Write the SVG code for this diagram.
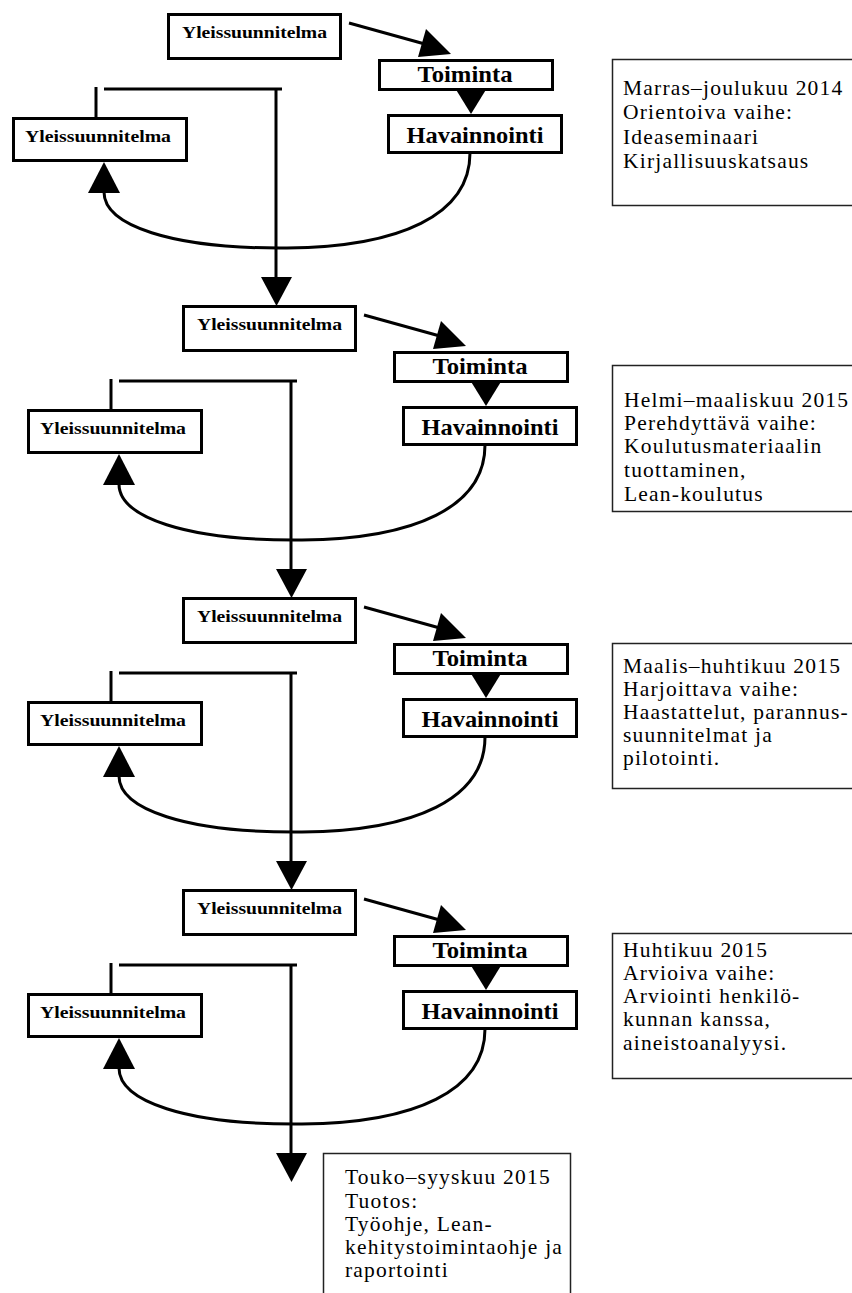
<svg xmlns="http://www.w3.org/2000/svg" width="852" height="1293" viewBox="0 0 852 1293">
  <style>
    .node rect { fill: #fff; stroke: #000; stroke-width: 3; }
    .lbl { font-family: "Liberation Serif", "Times New Roman", serif; font-weight: bold; text-anchor: middle; fill: #000; }
    .lbl-s { font-size: 17px; }
    .lbl-l { font-size: 23px; }
    .note rect { fill: #fff; stroke: #222; stroke-width: 1.5; }
    .note text { font-family: "Liberation Serif", "Times New Roman", serif; font-size: 21.5px; letter-spacing: 1.2px; fill: #000; }
    .wire { fill: none; stroke: #000; stroke-width: 3; }
    .head { fill: #000; stroke: none; }
  </style>

  <!-- Cycle 1 -->
  <g id="cycle1">
    <g id="c1-plan-top" class="node"><rect x="168.5" y="14.5" width="172" height="44"/><text class="lbl lbl-s" x="254.5" y="38" textLength="145" lengthAdjust="spacingAndGlyphs">Yleissuunnitelma</text></g>
    <g id="c1-action" class="node"><rect x="379.5" y="60.5" width="173" height="29"/><text class="lbl lbl-l" x="465" y="82" textLength="95" lengthAdjust="spacingAndGlyphs">Toiminta</text></g>
    <g id="c1-observe" class="node"><rect x="388.5" y="115.5" width="173" height="37"/><text class="lbl lbl-l" x="475" y="143" textLength="137" lengthAdjust="spacingAndGlyphs">Havainnointi</text></g>
    <g id="c1-plan-left" class="node"><rect x="13.5" y="118.5" width="173" height="42"/><text class="lbl lbl-s" x="98" y="142" textLength="146" lengthAdjust="spacingAndGlyphs">Yleissuunnitelma</text></g>
  </g>

  <!-- Cycle 2 -->
  <g id="cycle2" transform="translate(15,292)">
    <g id="c2-plan-top" class="node"><rect x="168.5" y="14.5" width="172" height="44"/><text class="lbl lbl-s" x="254.5" y="38" textLength="145" lengthAdjust="spacingAndGlyphs">Yleissuunnitelma</text></g>
    <g id="c2-action" class="node"><rect x="379.5" y="60.5" width="173" height="29"/><text class="lbl lbl-l" x="465" y="82" textLength="95" lengthAdjust="spacingAndGlyphs">Toiminta</text></g>
    <g id="c2-observe" class="node"><rect x="388.5" y="115.5" width="173" height="37"/><text class="lbl lbl-l" x="475" y="143" textLength="137" lengthAdjust="spacingAndGlyphs">Havainnointi</text></g>
    <g id="c2-plan-left" class="node"><rect x="13.5" y="118.5" width="173" height="42"/><text class="lbl lbl-s" x="98" y="142" textLength="146" lengthAdjust="spacingAndGlyphs">Yleissuunnitelma</text></g>
  </g>

  <!-- Cycle 3 -->
  <g id="cycle3" transform="translate(15,584)">
    <g id="c3-plan-top" class="node"><rect x="168.5" y="14.5" width="172" height="44"/><text class="lbl lbl-s" x="254.5" y="38" textLength="145" lengthAdjust="spacingAndGlyphs">Yleissuunnitelma</text></g>
    <g id="c3-action" class="node"><rect x="379.5" y="60.5" width="173" height="29"/><text class="lbl lbl-l" x="465" y="82" textLength="95" lengthAdjust="spacingAndGlyphs">Toiminta</text></g>
    <g id="c3-observe" class="node"><rect x="388.5" y="115.5" width="173" height="37"/><text class="lbl lbl-l" x="475" y="143" textLength="137" lengthAdjust="spacingAndGlyphs">Havainnointi</text></g>
    <g id="c3-plan-left" class="node"><rect x="13.5" y="118.5" width="173" height="42"/><text class="lbl lbl-s" x="98" y="142" textLength="146" lengthAdjust="spacingAndGlyphs">Yleissuunnitelma</text></g>
  </g>

  <!-- Cycle 4 -->
  <g id="cycle4" transform="translate(15,876)">
    <g id="c4-plan-top" class="node"><rect x="168.5" y="14.5" width="172" height="44"/><text class="lbl lbl-s" x="254.5" y="38" textLength="145" lengthAdjust="spacingAndGlyphs">Yleissuunnitelma</text></g>
    <g id="c4-action" class="node"><rect x="379.5" y="60.5" width="173" height="29"/><text class="lbl lbl-l" x="465" y="82" textLength="95" lengthAdjust="spacingAndGlyphs">Toiminta</text></g>
    <g id="c4-observe" class="node"><rect x="388.5" y="115.5" width="173" height="37"/><text class="lbl lbl-l" x="475" y="143" textLength="137" lengthAdjust="spacingAndGlyphs">Havainnointi</text></g>
    <g id="c4-plan-left" class="node"><rect x="13.5" y="118.5" width="173" height="42"/><text class="lbl lbl-s" x="98" y="142" textLength="146" lengthAdjust="spacingAndGlyphs">Yleissuunnitelma</text></g>
  </g>

  <!-- Connectors: each cycle uses the same local geometry -->
  <defs>
    <g id="cycle-wires">
      <path class="wire" d="M349,23 L432,46"/>
      <polygon class="head" points="426,29 418,57 451,54"/>
      <polygon class="head" points="455,88 487,88 471,114"/>
      <path class="wire" d="M470,153 C470,215 400,247 287,248 C170,249 104,225 104,192"/>
      <polygon class="head" points="88,193 120,193 104,162"/>
      <path class="wire" d="M96,87 V118"/>
      <path class="wire" d="M104,89 H282"/>
      <path class="wire" d="M276,89 V278"/>
      <polygon class="head" points="261,277 292,277 276.5,306"/>
    </g>
  </defs>
  <g id="connectors">
    <use href="#cycle-wires"/>
    <use href="#cycle-wires" transform="translate(15,292)"/>
    <use href="#cycle-wires" transform="translate(15,584)"/>
    <use href="#cycle-wires" transform="translate(15,876)"/>
  </g>

  <!-- Phase notes -->
  <g id="note1" class="note">
    <rect x="612.5" y="59.5" width="260" height="146"/>
    <text x="623" y="95">Marras–joulukuu 2014</text>
    <text x="623" y="119">Orientoiva vaihe:</text>
    <text x="623" y="144">Ideaseminaari</text>
    <text x="623" y="168">Kirjallisuuskatsaus</text>
  </g>
  <g id="note2" class="note">
    <rect x="612.5" y="365.5" width="260" height="146"/>
    <text x="624" y="407">Helmi–maaliskuu 2015</text>
    <text x="624" y="430">Perehdyttävä vaihe:</text>
    <text x="624" y="453">Koulutusmateriaalin</text>
    <text x="624" y="477">tuottaminen,</text>
    <text x="624" y="501">Lean-koulutus</text>
  </g>
  <g id="note3" class="note">
    <rect x="612.5" y="643.5" width="260" height="145"/>
    <text x="623" y="673">Maalis–huhtikuu 2015</text>
    <text x="623" y="696">Harjoittava vaihe:</text>
    <text x="623" y="719">Haastattelut, parannus-</text>
    <text x="623" y="742">suunnitelmat ja</text>
    <text x="623" y="765">pilotointi.</text>
  </g>
  <g id="note4" class="note">
    <rect x="612.5" y="933.5" width="260" height="145"/>
    <text x="623" y="957">Huhtikuu 2015</text>
    <text x="623" y="980">Arvioiva vaihe:</text>
    <text x="623" y="1003">Arviointi henkilö-</text>
    <text x="623" y="1026">kunnan kanssa,</text>
    <text x="623" y="1050">aineistoanalyysi.</text>
  </g>
  <g id="note5" class="note">
    <rect x="323.5" y="1153.5" width="247" height="160"/>
    <text x="345" y="1184">Touko–syyskuu 2015</text>
    <text x="345" y="1208">Tuotos:</text>
    <text x="345" y="1231">Työohje, Lean-</text>
    <text x="345" y="1254">kehitystoimintaohje ja</text>
    <text x="345" y="1277">raportointi</text>
  </g>
</svg>
